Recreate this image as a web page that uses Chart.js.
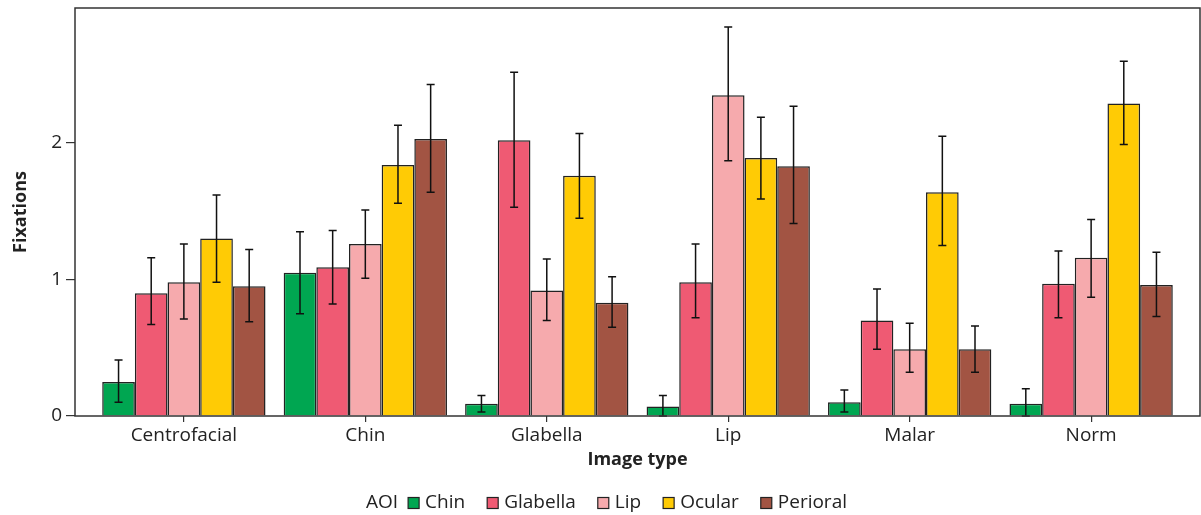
<!DOCTYPE html>
<html>
<head>
<meta charset="utf-8">
<script src="https://cdn.jsdelivr.net/npm/chart.js@4/dist/chart.umd.min.js"></script>
<style>
  html, body { margin: 0; padding: 0; background: #fff; }
  canvas { display: block; }
</style>
</head>
<body>
<canvas id="chart-bar" width="1201" height="515"></canvas>
<script>
// categories (image type) and y tick labels
const categories = ["Centrofacial", "Chin", "Glabella", "Lip", "Malar", "Norm"];
const yTicks = [0, 1, 2];

// AOI series: mean fixations, lower and upper error bar ends
const chinMean = [0.25, 1.05, 0.09, 0.07, 0.10, 0.09];
const chinLow  = [0.10, 0.75, 0.03, 0.00, 0.03, 0.00];
const chinHigh = [0.41, 1.35, 0.15, 0.15, 0.19, 0.20];

const glabellaMean = [0.90, 1.09, 2.02, 0.98, 0.70, 0.97];
const glabellaLow  = [0.67, 0.82, 1.53, 0.72, 0.49, 0.72];
const glabellaHigh = [1.16, 1.36, 2.52, 1.26, 0.93, 1.21];

const lipMean = [0.98, 1.26, 0.92, 2.35, 0.49, 1.16];
const lipLow  = [0.71, 1.01, 0.70, 1.87, 0.32, 0.87];
const lipHigh = [1.26, 1.51, 1.15, 2.85, 0.68, 1.44];

const ocularMean = [1.30, 1.84, 1.76, 1.89, 1.64, 2.29];
const ocularLow  = [0.98, 1.56, 1.45, 1.59, 1.25, 1.99];
const ocularHigh = [1.62, 2.13, 2.07, 2.19, 2.05, 2.60];

const periMean = [0.95, 2.03, 0.83, 1.83, 0.49, 0.96];
const periLow  = [0.69, 1.64, 0.65, 1.41, 0.32, 0.73];
const periHigh = [1.22, 2.43, 1.02, 2.27, 0.66, 1.20];

const FONT = "'Open Sans', 'Noto Sans', sans-serif";
const TEXT = '#222';

function series(label, color, mean, low, high) {
    return {
        label: label,
        data: mean.map((v, i) => ({ x: i, y: v })),
        errLow: low,
        errHigh: high,
        backgroundColor: color,
        borderColor: '#222',
        borderWidth: 1.5,
        categoryPercentage: 0.9,
        barPercentage: 1.0
    };
}

// setup
const data = {
    datasets: [
        series('Chin', '#00A651', chinMean, chinLow, chinHigh),
        series('Glabella', '#EF5A73', glabellaMean, glabellaLow, glabellaHigh),
        series('Lip', '#F6AAAD', lipMean, lipLow, lipHigh),
        series('Ocular', '#FFCB05', ocularMean, ocularLow, ocularHigh),
        series('Perioral', '#A25443', periMean, periLow, periHigh)
    ]
};

// error bars drawn from the y scale
const errorBars = {
    id: 'errorBars',
    afterDatasetsDraw(chart) {
        const ctx = chart.ctx;
        const y = chart.scales.y;
        ctx.save();
        ctx.strokeStyle = '#111';
        ctx.lineWidth = 1.5;
        chart.data.datasets.forEach((ds, i) => {
            chart.getDatasetMeta(i).data.forEach((bar, j) => {
                const lo = y.getPixelForValue(ds.errLow[j]);
                const hi = y.getPixelForValue(ds.errHigh[j]);
                ctx.beginPath();
                ctx.moveTo(bar.x, lo); ctx.lineTo(bar.x, hi);
                ctx.moveTo(bar.x - 4, lo); ctx.lineTo(bar.x + 4, lo);
                ctx.moveTo(bar.x - 4, hi); ctx.lineTo(bar.x + 4, hi);
                ctx.stroke();
            });
        });
        // panel frame
        const a = chart.chartArea;
        ctx.strokeStyle = '#333';
        ctx.lineWidth = 1.5;
        ctx.strokeRect(a.left, a.top, a.right - a.left, a.bottom - a.top);
        ctx.restore();
    }
};

// legend with inline "AOI" title
const aoiLegend = {
    id: 'aoiLegend',
    afterDraw(chart) {
        const ctx = chart.ctx;
        ctx.save();
        ctx.font = '19px ' + FONT;
        ctx.textBaseline = 'middle';
        const box = 11, gapText = 6, gapItem = 22, gapTitle = 10;
        const items = chart.data.datasets;
        let total = ctx.measureText('AOI').width + gapTitle;
        items.forEach((ds, i) => {
            total += box + gapText + ctx.measureText(ds.label).width;
            if (i < items.length - 1) total += gapItem;
        });
        let x = (chart.width - total) / 2 + 6;
        const yc = 503;
        ctx.fillStyle = TEXT;
        ctx.fillText('AOI', x, yc);
        x += ctx.measureText('AOI').width + gapTitle;
        items.forEach((ds) => {
            ctx.fillStyle = ds.backgroundColor;
            ctx.fillRect(x, yc - box / 2, box, box);
            ctx.strokeStyle = '#222';
            ctx.lineWidth = 1.2;
            ctx.strokeRect(x, yc - box / 2, box, box);
            x += box + gapText;
            ctx.fillStyle = TEXT;
            ctx.fillText(ds.label, x, yc);
            x += ctx.measureText(ds.label).width + gapItem;
        });
        ctx.restore();
    }
};

// config
const config = {
    type: 'bar',
    data,
    plugins: [errorBars, aoiLegend],
    options: {
        responsive: false,
        animation: false,
        devicePixelRatio: 1,
        layout: { padding: { top: 8, right: 1, bottom: 0, left: 0 } },
        plugins: {
            legend: { display: false },
            tooltip: { enabled: false }
        },
        scales: {
            x: {
                type: 'linear',
                min: -0.6,
                max: 5.6,
                offset: false,
                afterFit: (s) => { s.height = 99; s.paddingLeft = 0; s.paddingRight = 0; },
                afterBuildTicks: (s) => { s.ticks = categories.map((c, i) => ({ value: i })); },
                border: { display: false },
                grid: { offset: false, drawOnChartArea: false, drawTicks: true, tickLength: 6, color: '#333', lineWidth: 1.2 },
                ticks: {
                    callback: (v) => categories[v],
                    font: { family: FONT, size: 19 },
                    color: TEXT,
                    padding: 2,
                    maxRotation: 0,
                    autoSkip: false
                },
                title: {
                    display: true,
                    text: 'Image type',
                    font: { family: FONT, size: 18, weight: 'bold' },
                    color: TEXT,
                    padding: { top: 0, bottom: 44 }
                }
            },
            y: {
                min: 0,
                max: 2.99,
                afterFit: (s) => { s.width = 75; s.paddingTop = 0; s.paddingBottom = 0; },
                afterBuildTicks: (s) => { s.ticks = yTicks.map((v) => ({ value: v })); },
                border: { display: false },
                grid: { drawOnChartArea: false, drawTicks: true, tickLength: 9, color: '#333', lineWidth: 1.2 },
                ticks: {
                    font: { family: FONT, size: 19 },
                    color: TEXT,
                    padding: 4
                },
                title: {
                    display: true,
                    text: 'Fixations',
                    font: { family: FONT, size: 18, weight: 'bold' },
                    color: TEXT,
                    padding: { top: 10, bottom: 0 }
                }
            }
        }
    }
};

// render init block
const myChart = new Chart(document.getElementById('chart-bar'), config);
</script>
</body>
</html>
